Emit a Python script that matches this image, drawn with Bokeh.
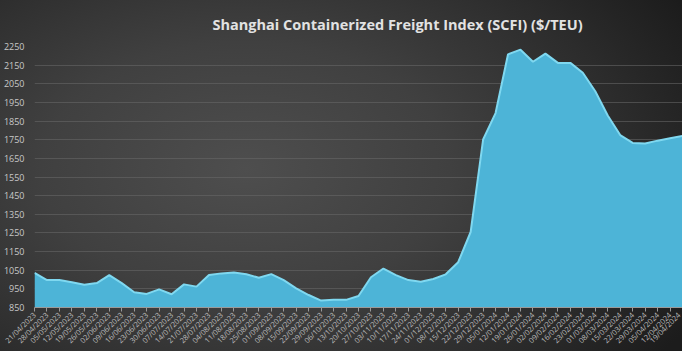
import math
from bokeh.plotting import figure
from bokeh.models import FixedTicker, Range1d, Title, ColumnDataSource
from bokeh.embed import file_html
from bokeh.resources import INLINE

week_labels = [
    "21/04/2023", "28/04/2023", "05/05/2023", "12/05/2023", "19/05/2023", "26/05/2023",
    "02/06/2023", "09/06/2023", "16/06/2023", "23/06/2023", "30/06/2023", "07/07/2023",
    "14/07/2023", "21/07/2023", "28/07/2023", "04/08/2023", "11/08/2023", "18/08/2023",
    "25/08/2023", "01/09/2023", "08/09/2023", "15/09/2023", "22/09/2023", "29/09/2023",
    "06/10/2023", "13/10/2023", "20/10/2023", "27/10/2023", "03/11/2023", "10/11/2023",
    "17/11/2023", "24/11/2023", "01/12/2023", "08/12/2023", "15/12/2023", "22/12/2023",
    "29/12/2023", "05/01/2024", "12/01/2024", "19/01/2024", "26/01/2024", "02/02/2024",
    "09/02/2024", "16/02/2024", "23/02/2024", "01/03/2024", "08/03/2024", "15/03/2024",
    "22/03/2024", "29/03/2024", "05/04/2024", "12/04/2024", "19/04/2024",
]
scfi = [
    1036, 997, 998, 985, 972, 981, 1024, 981, 932, 923, 947, 921, 974, 962,
    1024, 1033, 1038, 1028, 1010, 1029, 997, 953, 917, 887, 891, 891, 912, 1012,
    1059, 1024, 997, 988, 1003, 1028, 1093, 1255, 1751, 1893, 2208, 2233, 2168,
    2212, 2162, 2162, 2109, 2010, 1880, 1775, 1733, 1730, 1745, 1758, 1770,
]
y_ticks = list(range(850, 2251, 100))
y_min, y_max = 850, 2250

idx = list(range(len(week_labels)))
src = ColumnDataSource(dict(x=idx, y=scfi, base=[y_min] * len(idx)))

p = figure(width=682, height=351, output_backend="svg", toolbar_location=None,
           x_range=Range1d(0, len(idx) - 1), y_range=Range1d(y_min, y_max),
           min_border_left=4, min_border_right=0, min_border_top=43, min_border_bottom=0)
p.styles = {"background": "radial-gradient(ellipse 75% 90% at 36% 48%, #4e4e4e 0%, #404040 40%, #2c2c2c 75%, #1c1c1c 100%)"}
p.background_fill_alpha = 0
p.border_fill_alpha = 0
p.outline_line_color = None

p.varea(x="x", y1="base", y2="y", source=src, fill_color="#4db4d7")
p.line(x="x", y="y", source=src, line_color="#7fd8f0", line_width=2)

p.add_layout(Title(text="Shanghai Containerized Freight Index (SCFI) ($/TEU)",
                   align="left", text_color="#e2e2e2", text_font="Open Sans",
                   text_font_size="14.5px", text_font_style="bold", offset=178,
                   standoff=25), "above")

p.xgrid.grid_line_color = None
p.ygrid.grid_line_color = "#6a6a6a"
p.ygrid.grid_line_alpha = 0.55
p.ygrid.ticker = FixedTicker(ticks=y_ticks)

p.xaxis.ticker = FixedTicker(ticks=idx)
p.xaxis.major_label_overrides = {i: lab for i, lab in zip(idx, week_labels)}
p.xaxis.major_label_orientation = math.pi / 4
p.xaxis.major_label_text_font = "Open Sans"
p.xaxis.major_label_text_font_size = "7.5px"
p.xaxis.major_label_text_color = "#bdbdbd"
p.xaxis.axis_line_color = "#9a9a9a"
p.xaxis.major_tick_line_color = "#9a9a9a"
p.xaxis.major_tick_out = 4
p.xaxis.major_tick_in = 0
p.xaxis.minor_tick_line_color = None
p.xaxis.major_label_standoff = 2

p.yaxis.ticker = FixedTicker(ticks=y_ticks)
p.yaxis.axis_line_color = None
p.yaxis.major_tick_line_color = None
p.yaxis.minor_tick_line_color = None
p.yaxis.major_label_text_font = "Open Sans"
p.yaxis.major_label_text_font_size = "9px"
p.yaxis.major_label_text_color = "#c8c8c8"
p.yaxis.major_label_standoff = 4

open("out.html", "w").write(file_html(p, INLINE))
